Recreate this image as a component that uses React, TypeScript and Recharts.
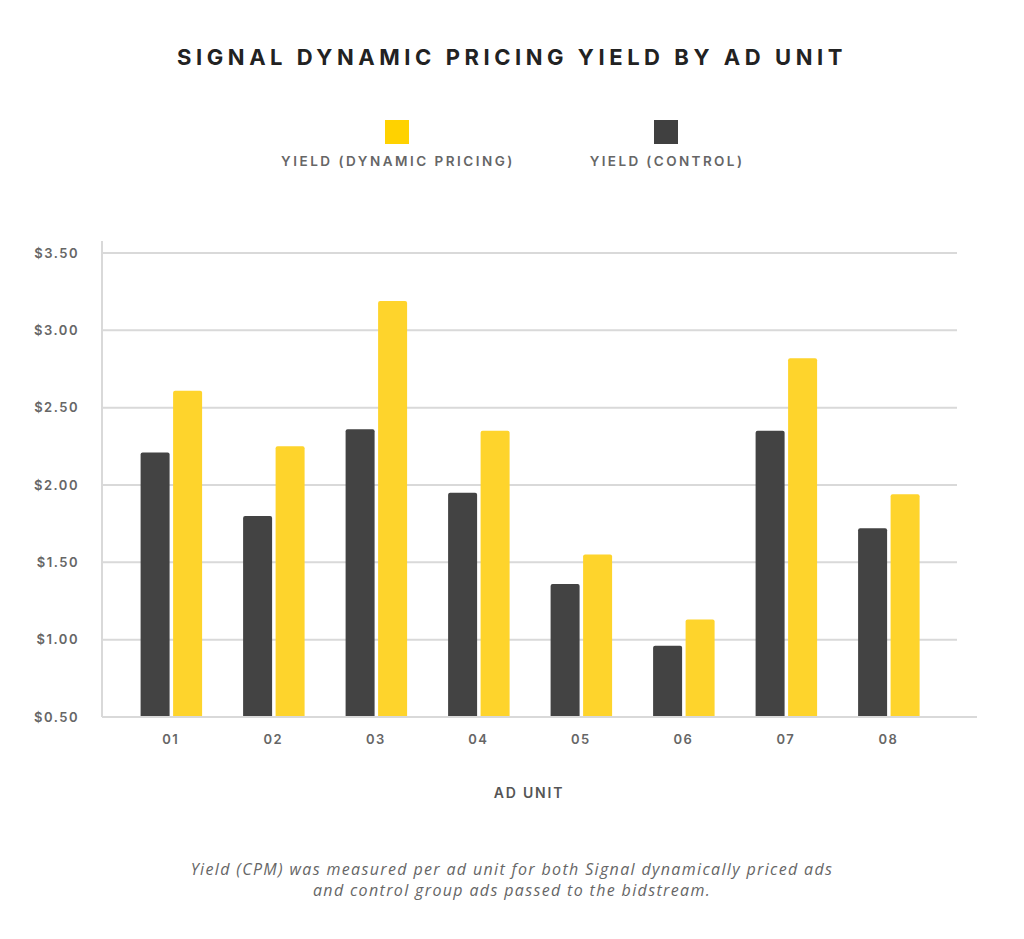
import React from 'react';
import { BarChart, Bar, XAxis, YAxis, CartesianGrid } from 'recharts';

const adUnits = ['01', '02', '03', '04', '05', '06', '07', '08'];
const controlYield = [2.21, 1.8, 2.36, 1.95, 1.36, 0.96, 2.35, 1.72];
const dynamicYield = [2.61, 2.25, 3.19, 2.35, 1.55, 1.13, 2.82, 1.94];
const yTicks = [0.5, 1, 1.5, 2, 2.5, 3, 3.5];

const data = adUnits.map((unit, i) => ({
  unit,
  control: controlYield[i],
  dynamic: dynamicYield[i],
}));

const FONT = 'Inter, "DejaVu Sans", sans-serif';
const GRID = '#d9d9d9';

// grid stops 20px short of the x axis line, and skips the padded top edge
const gridLine = (p: any) => {
  if (p.y != null && Math.abs(p.y1 - p.y) < 1) return <g key={p.key} />;
  return <line key={p.key} x1={p.x1} y1={p.y1} x2={p.x2 - 20} y2={p.y2} stroke={GRID} strokeWidth={2} />;
};

export default function App() {
  return (
    <div style={{ position: 'absolute', left: 0, top: 0, width: 1024, height: 939, background: '#fff', fontFamily: FONT }}>
      <div style={{ position: 'absolute', top: 44, left: 0, width: 1024, textAlign: 'center', fontSize: 22, fontWeight: 700, letterSpacing: 4.55, color: '#222' }}>
        SIGNAL DYNAMIC PRICING YIELD BY AD UNIT
      </div>

      {/* legend */}
      <div style={{ position: 'absolute', left: 385, top: 120, width: 24, height: 24, background: '#ffd200' }} />
      <div style={{ position: 'absolute', left: 654, top: 120, width: 24, height: 24, background: '#404040' }} />
      <div style={{ position: 'absolute', left: 198, top: 153, width: 400, textAlign: 'center', fontSize: 13.5, fontWeight: 600, letterSpacing: 2.5, color: '#666' }}>
        YIELD (DYNAMIC PRICING)
      </div>
      <div style={{ position: 'absolute', left: 467, top: 153, width: 400, textAlign: 'center', fontSize: 13.5, fontWeight: 600, letterSpacing: 2.4, color: '#666' }}>
        YIELD (CONTROL)
      </div>

      <div style={{ position: 'absolute', left: 0, top: 0 }}>
        <BarChart
          width={1024}
          height={939}
          data={data}
          margin={{ top: 241, right: 47, bottom: 162, left: 0 }}
          barSize={29}
          barGap={3.5}
        >
          <CartesianGrid vertical={false} horizontal={gridLine} />
          <XAxis
            dataKey="unit"
            padding={{ left: 17.6, right: 37.4 }}
            axisLine={{ stroke: GRID, strokeWidth: 2 }}
            tickLine={false}
            tickMargin={12}
            height={60}
            tick={{ fill: '#666', fontSize: 13, fontWeight: 600, letterSpacing: 1.5, fontFamily: FONT }}
          />
          <YAxis
            domain={[0.5, 3.5]}
            ticks={yTicks}
            padding={{ top: 12 }}
            width={102}
            axisLine={{ stroke: GRID, strokeWidth: 2 }}
            tickLine={false}
            tickMargin={17}
            tickFormatter={(v: number) => `$${v.toFixed(2)}`}
            tick={{ fill: '#666', fontSize: 13, fontWeight: 600, letterSpacing: 1.5, fontFamily: FONT }}
          />
          <Bar dataKey="control" fill="#434343" radius={[2, 2, 0, 0]} isAnimationActive={false} />
          <Bar dataKey="dynamic" fill="#fed42c" radius={[2, 2, 0, 0]} isAnimationActive={false} />
        </BarChart>
      </div>

      <div style={{ position: 'absolute', top: 784, left: 59, width: 940, textAlign: 'center', fontSize: 14, fontWeight: 600, letterSpacing: 1.8, color: '#555' }}>
        AD UNIT
      </div>

      <div style={{ position: 'absolute', top: 859, left: 0, width: 1024, textAlign: 'center', fontSize: 16, fontStyle: 'italic', lineHeight: '21px', letterSpacing: 1.35, color: '#666', fontFamily: '"Open Sans", sans-serif' }}>
        Yield (CPM) was measured per ad unit for both Signal dynamically priced ads
        <br />
        and control group ads passed to the bidstream.
      </div>
    </div>
  );
}
